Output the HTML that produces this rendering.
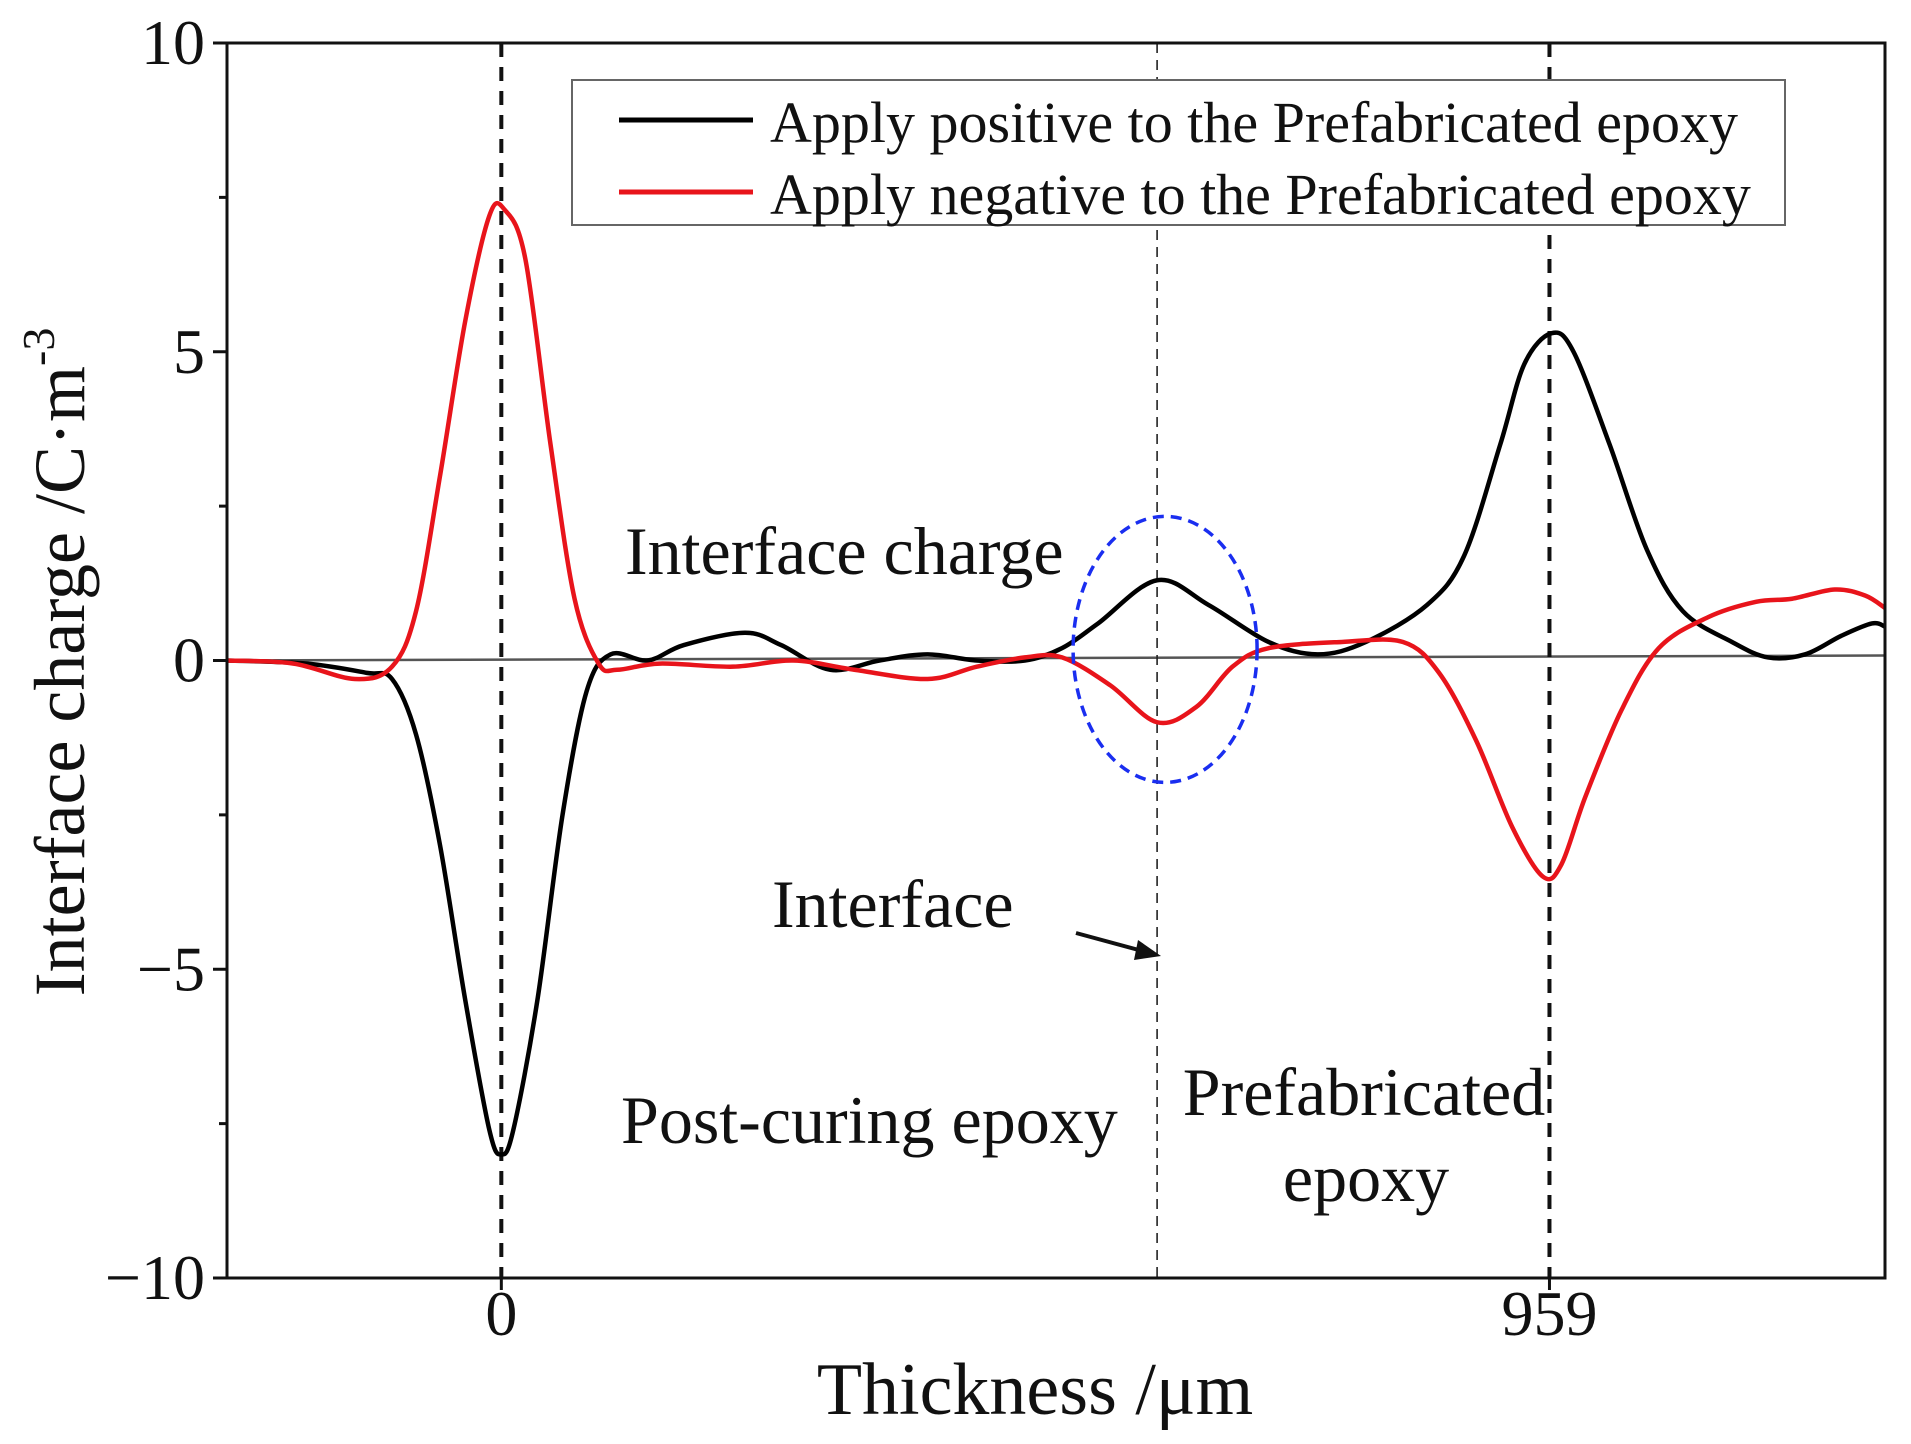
<!DOCTYPE html>
<html><head><meta charset="utf-8"><style>
html,body{margin:0;padding:0;background:#fff}
svg{display:block}
text{font-family:"Liberation Serif",serif;fill:#111}
</style></head><body>
<svg id="chart" width="1911" height="1444" viewBox="0 0 1911 1444" xmlns="http://www.w3.org/2000/svg">
<g id="grid"></g>
</svg>
<script>
const blackX=[-251,-178,-123,-100,-78,-56,-33,-11,0,11,33,56,78,100,134,167,223,256,301,346,390,435,479,513,546,600,647,702,747,791,847,881,914,936,961,981,1014,1048,1081,1126,1159,1193,1226,1254,1266];
const blackY=[0,-0.05,-0.2,-0.3,-1.2,-3,-5.5,-7.6,-8.0,-7.6,-5.5,-2.5,-0.5,0.1,0.0,0.25,0.45,0.25,-0.15,0,0.1,0,0,0.2,0.6,1.3,0.9,0.3,0.1,0.3,0.9,1.7,3.5,4.8,5.3,5.0,3.5,1.8,0.8,0.3,0.05,0.1,0.4,0.6,0.55];
const redX=[-251,-190,-134,-100,-78,-56,-33,-11,3,22,45,67,89,106,145,212,267,323,390,435,479,513,557,600,636,669,702,769,825,858,892,925,953,970,992,1025,1059,1104,1148,1181,1220,1248,1266];
const redY=[0,-0.05,-0.3,-0.1,0.8,3,5.5,7.2,7.3,6.5,3.5,1,-0.05,-0.15,-0.05,-0.1,0,-0.15,-0.3,-0.1,0.05,0.05,-0.4,-1.0,-0.75,-0.1,0.2,0.3,0.3,-0.2,-1.3,-2.7,-3.5,-3.3,-2.2,-0.8,0.2,0.7,0.95,1.0,1.15,1.05,0.85];
const yTicks=[10,5,0,-5,-10];
const yTickLabels=["10","5","0","\u22125","\u221210"];
const xTicks=[0,959];
const xTickLabels=["0","959"];
const X0=227,X1=1885,Y0=43,Y1=1278,XMIN=-251,XMAX=1266,YMIN=-10,YMAX=10;
const sx=v=>X0+(v-XMIN)/(XMAX-XMIN)*(X1-X0);
const sy=v=>Y1-(v-YMIN)/(YMAX-YMIN)*(Y1-Y0);
const svg=document.getElementById('chart');
const NS='http://www.w3.org/2000/svg';
function mk(tag,attrs,parent){const e=document.createElementNS(NS,tag);for(const k in attrs)e.setAttribute(k,attrs[k]);(parent||svg).appendChild(e);return e;}
function smooth(xs,ys){const p=xs.map((x,i)=>[sx(x),sy(ys[i])]);let d='M'+p[0][0]+','+p[0][1];
for(let i=0;i<p.length-1;i++){const a=p[Math.max(0,i-1)],b=p[i],c=p[i+1],e=p[Math.min(p.length-1,i+2)];
d+=' C'+(b[0]+(c[0]-a[0])/6)+','+(b[1]+(c[1]-a[1])/6)+' '+(c[0]-(e[0]-b[0])/6)+','+(c[1]-(e[1]-b[1])/6)+' '+c[0]+','+c[1];}return d;}
let z=mk('line',{x1:X0,y1:sy(0),x2:X1,y2:sy(0)-5,stroke:'#555','stroke-width':2.5});

xTicks.forEach(t=>{let l=mk('line',{x1:sx(t),y1:Y0,x2:sx(t),y2:Y1,stroke:'#111','stroke-width':4,'stroke-dasharray':'14,10'});
});
let il=mk('line',{x1:sx(600),y1:Y0,x2:sx(600),y2:Y1,stroke:'#222','stroke-width':1.6,'stroke-dasharray':'10,7'});

let pb=mk('path',{d:smooth(blackX,blackY),fill:'none',stroke:'#000','stroke-width':4.5,'stroke-linejoin':'round'});

let pr=mk('path',{d:smooth(redX,redY),fill:'none',stroke:'#e8141b','stroke-width':4.5,'stroke-linejoin':'round'});

let el=mk('ellipse',{cx:sx(600)+8,cy:sy(0.18),rx:92,ry:133,fill:'none',stroke:'#1a2ef0','stroke-width':3.5,'stroke-dasharray':'11,7'});

let fr=mk('rect',{x:X0,y:Y0,width:X1-X0,height:Y1-Y0,fill:'none',stroke:'#111','stroke-width':3});

yTicks.forEach((t,i)=>{let l=mk('line',{x1:X0-14,y1:sy(t),x2:X0,y2:sy(t),stroke:'#111','stroke-width':3});

let tx=mk('text',{x:X0-22,y:sy(t)+21,'text-anchor':'end','font-size':64});tx.textContent=yTickLabels[i];
});
[7.5,2.5,-2.5,-7.5].forEach(t=>{let l=mk('line',{x1:X0-8,y1:sy(t),x2:X0,y2:sy(t),stroke:'#111','stroke-width':3});
});
xTicks.forEach((t,i)=>{let l=mk('line',{x1:sx(t),y1:Y1,x2:sx(t),y2:Y1+12,stroke:'#111','stroke-width':3});

let tx=mk('text',{x:sx(t),y:Y1+57,'text-anchor':'middle','font-size':64});tx.textContent=xTickLabels[i];
});
</script>
<svg style="position:absolute;left:0;top:0" width="1911" height="1444" xmlns="http://www.w3.org/2000/svg">
<text x="1035" y="1414" text-anchor="middle" font-size="74">Thickness /μm</text>
<text transform="translate(84,662) rotate(-90)" text-anchor="middle" font-size="72">Interface charge /C·m<tspan font-size="46" dy="-30">-3</tspan></text>
<g>
<rect x="572" y="80" width="1213" height="145" fill="#fff" stroke="#666" stroke-width="2"/>
<line x1="619" y1="120" x2="753" y2="120" stroke="#000" stroke-width="5"/>
<text x="770" y="142" font-size="58">Apply positive to the Prefabricated epoxy</text>
<line x1="619" y1="192" x2="753" y2="192" stroke="#e8141b" stroke-width="5"/>
<text x="770" y="214" font-size="58">Apply negative to the Prefabricated epoxy</text>
</g>
<text x="625" y="574" font-size="68">Interface charge</text>
<text x="772" y="927" font-size="68">Interface</text>
<g>
<line x1="1076" y1="933" x2="1146" y2="952" stroke="#111" stroke-width="4"/>
<polygon points="1161,956 1138,940 1134,960" fill="#111"/>
</g>
<text x="621" y="1143" font-size="68">Post-curing epoxy</text>
<text x="1364" y="1115" text-anchor="middle" font-size="68">Prefabricated</text>
<text x="1366" y="1201" text-anchor="middle" font-size="68">epoxy</text>
</svg>
</body></html>
